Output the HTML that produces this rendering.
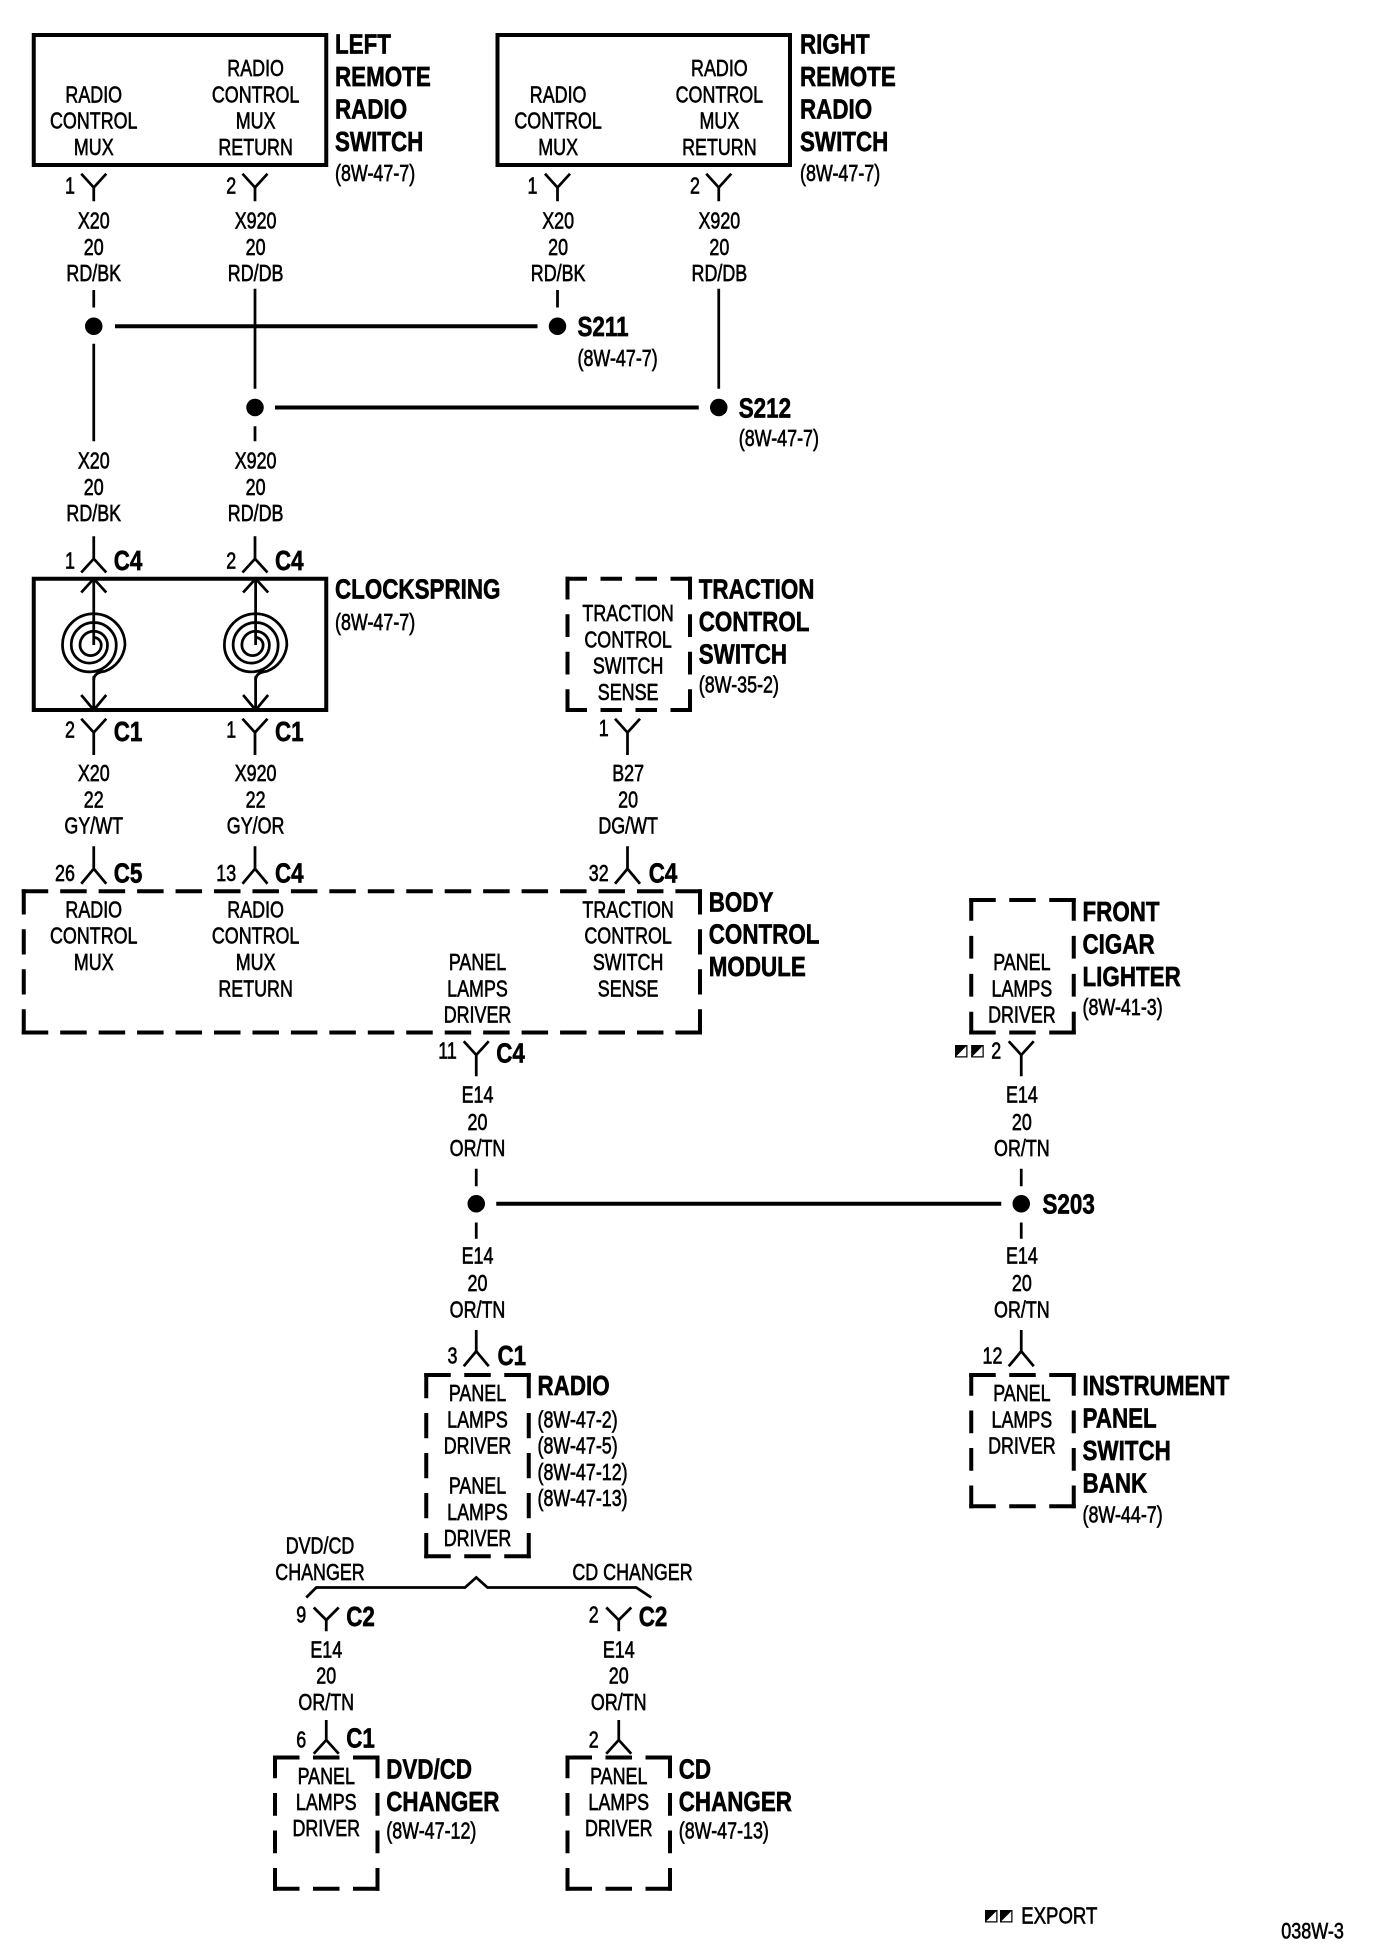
<!DOCTYPE html>
<html><head><meta charset="utf-8"><style>
html,body{margin:0;padding:0;background:#fff;width:1376px;height:1944px;overflow:hidden}
svg{display:block}
text{font-family:"Liberation Sans",Arial,sans-serif;font-size:18.6px;fill:#000;stroke:#000;stroke-width:.5}
.m{text-anchor:middle}
.b text,text.b{font-weight:bold;font-size:22.4px;stroke-width:.5}
</style></head><body>
<svg xmlns="http://www.w3.org/2000/svg" width="1376" height="1944" viewBox="0 0 1100.8 1555.2">
<defs>
<g id="db" fill="none" stroke="#000" stroke-width="3.2" stroke-linecap="square">
<path d="M0 0H82M0 105H82" stroke-dasharray="18 14"/><path d="M0 0V105M82 0V105" stroke-dasharray="15 15"/>
</g>
<g id="spiral" fill="none" stroke="#000" stroke-width="2.2">
<path d="M75 463V516M65 474L75 463L85 474M75 568V541M65 556L75 568L85 556"/>
<path d="M75 510A6 6 0 0 1 81 516A8.5 8.5 0 0 1 64 516A11 11 0 0 1 86 516A14.5 14.5 0 0 1 57 516A18 18 0 0 1 93 516A21.5 21.5 0 0 1 50 516A25 25 0 0 1 100 516A25 25 0 0 1 84 537Q75 538 75 544"/>
</g>
<g id="sq"><rect x=".5" y=".5" width="9" height="9" fill="#fff" stroke="#000"/><path d="M0 0H10L0 10Z"/></g>
</defs>
<rect width="1100.8" height="1555.2" fill="#fff"/>

<!-- solid boxes -->
<g fill="none" stroke="#000" stroke-width="3.2">
<rect x="27" y="28" width="234" height="104"/>
<rect x="398" y="28" width="234" height="104"/>
<rect x="27" y="463" width="234" height="105"/>
<path d="M92 261H430M220 326H559M397 963H801"/>
</g>

<!-- dashed boxes -->
<g fill="none" stroke="#000" stroke-width="3.2" stroke-linecap="square">
<path d="M19 713H560M19 826H560" stroke-dasharray="18 12.76"/>
<path d="M19 713V826M560 713V826" stroke-dasharray="17 15"/>
<path d="M454 463H552M454 568H552" stroke-dasharray="14 14"/>
<path d="M454 463V568M552 463V568" stroke-dasharray="15 15"/>
<path d="M777 720H859M777 826H859" stroke-dasharray="18 14"/>
<path d="M777 720V826M859 720V826" stroke-dasharray="15 15.33"/>
<path d="M341 1100H423M341 1245H423" stroke-dasharray="18 14"/>
<path d="M341 1100V1245M423 1100V1245" stroke-dasharray="17 15"/>
</g>
<use href="#db" x="777" y="1100"/>
<use href="#db" x="220" y="1406"/>
<use href="#db" x="454" y="1406"/>

<!-- clocksprings -->
<use href="#spiral"/>
<use href="#spiral" x="129.5"/>

<!-- wires and connectors -->
<g fill="none" stroke="#000" stroke-width="2.2">
<path d="M65 139L75 150L85 139M75 150V161M194 139L204 150L214 139M204 150V161M436 139L446 150L456 139M446 150V161M565 139L575 150L585 139M575 150V161"/>
<path d="M75 232V246M75 275V353M204 231V311M204 341V353M446 232V246M575 231V311"/>
<path d="M75 429V447M65 458L75 447L85 458M204 429V447M194 458L204 447L214 458"/>
<path d="M65 575L75 586L85 575M75 586V604M194 575L204 586L214 575M204 586V604M492 575L502 586L512 575M502 586V604"/>
<path d="M75 677V695M65 707L75 695L85 707M204 677V695M194 707L204 695L214 707M502 677V695M492 707L502 695L512 707"/>
<path d="M371 833L381 844L391 833M381 844V861M807 833L817 844L827 833M817 844V861"/>
<path d="M381 935V949M381 978V991M817 935V949M817 978V991"/>
<path d="M381 1064V1081M371 1093L381 1081L391 1093M817 1064V1081M807 1093L817 1081L827 1093"/>
<path d="M245 1278L253 1270H372L381 1262L390 1270H509L521 1278"/>
<path d="M251 1286L261 1296L271 1286M261 1296V1305M485 1286L495 1296L505 1286M495 1296V1305"/>
<path d="M261 1376V1392M251 1403L261 1392L271 1403M495 1376V1392M485 1403L495 1392L505 1403"/>
</g>
<g>
<circle cx="75" cy="261" r="7"/><circle cx="446" cy="261" r="7"/>
<circle cx="204" cy="326" r="7"/><circle cx="575" cy="326" r="7"/>
<circle cx="381" cy="963" r="7"/><circle cx="817" cy="963" r="7"/>
</g>
<use href="#sq" x="764" y="836"/><use href="#sq" x="777" y="836"/>
<use href="#sq" x="788" y="1528"/><use href="#sq" x="800" y="1528"/>

<!-- centered regular text columns -->
<g class="m">
<g transform="translate(75 0) scale(.77 1)">
<text y="82">RADIO</text><text y="103">CONTROL</text><text y="124">MUX</text>
<text y="183">X20</text><text y="204">20</text><text y="225">RD/BK</text>
<text y="375">X20</text><text y="396">20</text><text y="417">RD/BK</text>
<text y="625">X20</text><text y="646">22</text><text y="667">GY/WT</text>
<text y="734">RADIO</text><text y="755">CONTROL</text><text y="776">MUX</text>
</g>
<g transform="translate(204.5 0) scale(.77 1)">
<text y="61">RADIO</text><text y="82">CONTROL</text><text y="103">MUX</text><text y="124">RETURN</text>
<text y="183">X920</text><text y="204">20</text><text y="225">RD/DB</text>
<text y="375">X920</text><text y="396">20</text><text y="417">RD/DB</text>
<text y="625">X920</text><text y="646">22</text><text y="667">GY/OR</text>
<text y="734">RADIO</text><text y="755">CONTROL</text><text y="776">MUX</text><text y="797">RETURN</text>
</g>
<g transform="translate(446.5 0) scale(.77 1)">
<text y="82">RADIO</text><text y="103">CONTROL</text><text y="124">MUX</text>
<text y="183">X20</text><text y="204">20</text><text y="225">RD/BK</text>
</g>
<g transform="translate(575.5 0) scale(.77 1)">
<text y="61">RADIO</text><text y="82">CONTROL</text><text y="103">MUX</text><text y="124">RETURN</text>
<text y="183">X920</text><text y="204">20</text><text y="225">RD/DB</text>
</g>
<g transform="translate(502.5 0) scale(.77 1)">
<text y="497">TRACTION</text><text y="518">CONTROL</text><text y="539">SWITCH</text><text y="560">SENSE</text>
<text y="625">B27</text><text y="646">20</text><text y="667">DG/WT</text>
<text y="734">TRACTION</text><text y="755">CONTROL</text><text y="776">SWITCH</text><text y="797">SENSE</text>
</g>
<g transform="translate(382 0) scale(.77 1)">
<text y="776">PANEL</text><text y="797">LAMPS</text><text y="818">DRIVER</text>
<text y="882">E14</text><text y="904">20</text><text y="925">OR/TN</text>
<text y="1011">E14</text><text y="1033">20</text><text y="1054">OR/TN</text>
<text y="1121">PANEL</text><text y="1142">LAMPS</text><text y="1163">DRIVER</text>
<text y="1195">PANEL</text><text y="1216">LAMPS</text><text y="1237">DRIVER</text>
</g>
<g transform="translate(817.5 0) scale(.77 1)">
<text y="776">PANEL</text><text y="797">LAMPS</text><text y="818">DRIVER</text>
<text y="882">E14</text><text y="904">20</text><text y="925">OR/TN</text>
<text y="1011">E14</text><text y="1033">20</text><text y="1054">OR/TN</text>
<text y="1121">PANEL</text><text y="1142">LAMPS</text><text y="1163">DRIVER</text>
</g>
<g transform="translate(261 0) scale(.77 1)">
<text y="1326">E14</text><text y="1347">20</text><text y="1368">OR/TN</text>
<text y="1427">PANEL</text><text y="1448">LAMPS</text><text y="1469">DRIVER</text>
</g>
<g transform="translate(495 0) scale(.77 1)">
<text y="1326">E14</text><text y="1347">20</text><text y="1368">OR/TN</text>
<text y="1427">PANEL</text><text y="1448">LAMPS</text><text y="1469">DRIVER</text>
</g>
<g transform="translate(256 0) scale(.77 1)"><text y="1243">DVD/CD</text><text y="1264">CHANGER</text></g>
<g transform="translate(506 0) scale(.77 1)"><text y="1264">CD CHANGER</text></g>
<!-- pin numbers -->
<g transform="translate(56 0) scale(.77 1)"><text y="155">1</text><text y="455">1</text><text y="590">2</text></g>
<g transform="translate(185 0) scale(.77 1)"><text y="155">2</text><text y="455">2</text><text y="590">1</text></g>
<g transform="translate(426 0) scale(.77 1)"><text y="155">1</text></g>
<g transform="translate(556 0) scale(.77 1)"><text y="155">2</text></g>
<g transform="translate(483 0) scale(.77 1)"><text y="589">1</text></g>
<g transform="translate(52 0) scale(.77 1)"><text y="705">26</text></g>
<g transform="translate(181 0) scale(.77 1)"><text y="705">13</text></g>
<g transform="translate(479 0) scale(.77 1)"><text y="705">32</text></g>
<g transform="translate(358 0) scale(.77 1)"><text y="847">11</text></g>
<g transform="translate(797 0) scale(.77 1)"><text y="847">2</text></g>
<g transform="translate(362 0) scale(.77 1)"><text y="1091">3</text></g>
<g transform="translate(794 0) scale(.77 1)"><text y="1091">12</text></g>
<g transform="translate(241 0) scale(.77 1)"><text y="1298">9</text><text y="1398">6</text></g>
<g transform="translate(475 0) scale(.77 1)"><text y="1298">2</text><text y="1398">2</text></g>
</g>

<!-- reference labels -->
<g transform="translate(268 0) scale(.77 1)"><text y="145">(8W-47-7)</text><text y="504">(8W-47-7)</text></g>
<g transform="translate(640 0) scale(.77 1)"><text y="145">(8W-47-7)</text></g>
<g transform="translate(462 0) scale(.77 1)"><text y="293">(8W-47-7)</text></g>
<g transform="translate(591 0) scale(.77 1)"><text y="357">(8W-47-7)</text></g>
<g transform="translate(559 0) scale(.77 1)"><text y="554">(8W-35-2)</text></g>
<g transform="translate(866 0) scale(.77 1)"><text y="812">(8W-41-3)</text><text y="1218">(8W-44-7)</text></g>
<g transform="translate(430 0) scale(.77 1)"><text y="1142">(8W-47-2)</text><text y="1163">(8W-47-5)</text><text y="1184">(8W-47-12)</text><text y="1205">(8W-47-13)</text></g>
<g transform="translate(309 0) scale(.77 1)"><text y="1471">(8W-47-12)</text></g>
<g transform="translate(543 0) scale(.77 1)"><text y="1471">(8W-47-13)</text></g>
<g transform="translate(817 0) scale(.8 1)"><text y="1539">EXPORT</text></g>
<g transform="translate(1025 0) scale(.8 1)"><text y="1551" style="font-size:18px">038W-3</text></g>

<!-- bold labels -->
<g class="b">
<g transform="translate(268 0) scale(.8 1)"><text y="43">LEFT</text><text y="69">REMOTE</text><text y="95">RADIO</text><text y="121">SWITCH</text><text y="479">CLOCKSPRING</text></g>
<g transform="translate(640 0) scale(.8 1)"><text y="43">RIGHT</text><text y="69">REMOTE</text><text y="95">RADIO</text><text y="121">SWITCH</text></g>
<g transform="translate(462 0) scale(.8 1)"><text y="269">S211</text></g>
<g transform="translate(591 0) scale(.8 1)"><text y="334">S212</text></g>
<g transform="translate(559 0) scale(.8 1)"><text y="479">TRACTION</text><text y="505">CONTROL</text><text y="531">SWITCH</text></g>
<g transform="translate(567 0) scale(.8 1)"><text y="729">BODY</text><text y="755">CONTROL</text><text y="781">MODULE</text></g>
<g transform="translate(866 0) scale(.8 1)"><text y="737">FRONT</text><text y="763">CIGAR</text><text y="789">LIGHTER</text><text y="1116">INSTRUMENT</text><text y="1142">PANEL</text><text y="1168">SWITCH</text><text y="1194">BANK</text></g>
<g transform="translate(834 0) scale(.8 1)"><text y="971">S203</text></g>
<g transform="translate(430 0) scale(.8 1)"><text y="1116">RADIO</text></g>
<g transform="translate(309 0) scale(.8 1)"><text y="1423">DVD/CD</text><text y="1449">CHANGER</text></g>
<g transform="translate(543 0) scale(.8 1)"><text y="1423">CD</text><text y="1449">CHANGER</text></g>
<g transform="translate(91 0) scale(.8 1)"><text y="456">C4</text><text y="593">C1</text><text y="706">C5</text></g>
<g transform="translate(220 0) scale(.8 1)"><text y="456">C4</text><text y="593">C1</text><text y="706">C4</text></g>
<g transform="translate(519 0) scale(.8 1)"><text y="706">C4</text></g>
<g transform="translate(397 0) scale(.8 1)"><text y="850">C4</text></g>
<g transform="translate(398 0) scale(.8 1)"><text y="1092">C1</text></g>
<g transform="translate(277 0) scale(.8 1)"><text y="1301">C2</text><text y="1398">C1</text></g>
<g transform="translate(511 0) scale(.8 1)"><text y="1301">C2</text></g>
</g>
</svg>
</body></html>
